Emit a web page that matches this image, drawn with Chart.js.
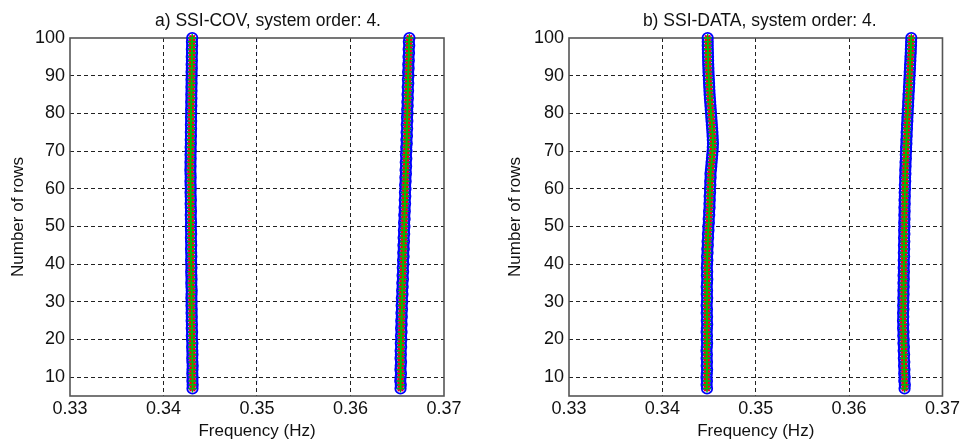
<!DOCTYPE html>
<html>
<head>
<meta charset="utf-8">
<script src="https://cdn.jsdelivr.net/npm/chart.js@4.4.0/dist/chart.umd.min.js"></script>
<style>
  html, body { margin: 0; padding: 0; background: #fff; }
  #wrap { display: flex; width: 962px; height: 446px; }
  .box { position: relative; width: 481px; height: 446px; }
</style>
</head>
<body>
<div id="wrap">
  <div class="box"><canvas id="covChart"></canvas></div>
  <div class="box"><canvas id="dataChart"></canvas></div>
</div>
<script>
// number of block rows used in the Hankel matrix
var rows = [
  7, 8, 9, 10, 11, 12, 13, 14, 15, 16,
  17, 18, 19, 20, 21, 22, 23, 24, 25, 26,
  27, 28, 29, 30, 31, 32, 33, 34, 35, 36,
  37, 38, 39, 40, 41, 42, 43, 44, 45, 46,
  47, 48, 49, 50, 51, 52, 53, 54, 55, 56,
  57, 58, 59, 60, 61, 62, 63, 64, 65, 66,
  67, 68, 69, 70, 71, 72, 73, 74, 75, 76,
  77, 78, 79, 80, 81, 82, 83, 84, 85, 86,
  87, 88, 89, 90, 91, 92, 93, 94, 95, 96,
  97, 98, 99, 100
];

// identified frequencies (Hz), SSI-COV
var covMode1 = [
  0.34310, 0.34312, 0.34309, 0.34311, 0.34308, 0.34310, 0.34312, 0.34309, 0.34307, 0.34310,
  0.34308, 0.34306, 0.34309, 0.34305, 0.34303, 0.34306, 0.34302, 0.34304, 0.34301, 0.34303,
  0.34300, 0.34302, 0.34299, 0.34301, 0.34298, 0.34300, 0.34302, 0.34299, 0.34297, 0.34300,
  0.34298, 0.34296, 0.34299, 0.34297, 0.34295, 0.34298, 0.34296, 0.34294, 0.34297, 0.34295,
  0.34293, 0.34296, 0.34294, 0.34292, 0.34295, 0.34293, 0.34291, 0.34294, 0.34292, 0.34290,
  0.34293, 0.34291, 0.34289, 0.34292, 0.34290, 0.34288, 0.34291, 0.34289, 0.34287, 0.34290,
  0.34288, 0.34291, 0.34289, 0.34292, 0.34290, 0.34293, 0.34291, 0.34294, 0.34292, 0.34295,
  0.34293, 0.34296, 0.34294, 0.34297, 0.34295, 0.34298, 0.34296, 0.34299, 0.34297, 0.34300,
  0.34298, 0.34301, 0.34299, 0.34302, 0.34300, 0.34303, 0.34301, 0.34304, 0.34302, 0.34305,
  0.34303, 0.34306, 0.34304, 0.34307
];
var covMode2 = [
  0.36535, 0.36538, 0.36532, 0.36536, 0.36540, 0.36534, 0.36537, 0.36541, 0.36535, 0.36539,
  0.36536, 0.36542, 0.36538, 0.36544, 0.36540, 0.36546, 0.36541, 0.36547, 0.36543, 0.36549,
  0.36545, 0.36551, 0.36547, 0.36553, 0.36549, 0.36556, 0.36552, 0.36558, 0.36554, 0.36561,
  0.36557, 0.36563, 0.36559, 0.36566, 0.36562, 0.36568, 0.36564, 0.36570, 0.36566, 0.36572,
  0.36568, 0.36574, 0.36571, 0.36577, 0.36573, 0.36579, 0.36575, 0.36581, 0.36578, 0.36584,
  0.36580, 0.36586, 0.36582, 0.36588, 0.36584, 0.36590, 0.36587, 0.36593, 0.36589, 0.36595,
  0.36591, 0.36597, 0.36593, 0.36599, 0.36596, 0.36602, 0.36598, 0.36604, 0.36600, 0.36606,
  0.36602, 0.36608, 0.36604, 0.36610, 0.36606, 0.36612, 0.36608, 0.36614, 0.36610, 0.36616,
  0.36612, 0.36618, 0.36614, 0.36620, 0.36616, 0.36622, 0.36618, 0.36624, 0.36620, 0.36626,
  0.36622, 0.36628, 0.36624, 0.36630
];

// identified frequencies (Hz), SSI-DATA
var dataMode1 = [
  0.34478, 0.34474, 0.34477, 0.34473, 0.34476, 0.34479, 0.34475, 0.34478, 0.34474, 0.34477,
  0.34473, 0.34476, 0.34479, 0.34475, 0.34478, 0.34474, 0.34477, 0.34480, 0.34476, 0.34479,
  0.34475, 0.34478, 0.34474, 0.34477, 0.34480, 0.34476, 0.34479, 0.34475, 0.34478, 0.34481,
  0.34477, 0.34480, 0.34476, 0.34479, 0.34482, 0.34478, 0.34484, 0.34481, 0.34487, 0.34484,
  0.34490, 0.34488, 0.34494, 0.34492, 0.34498, 0.34496, 0.34502, 0.34500, 0.34506, 0.34504,
  0.34508, 0.34506, 0.34511, 0.34509, 0.34514, 0.34512, 0.34517, 0.34515, 0.34520, 0.34524,
  0.34527, 0.34531, 0.34534, 0.34538, 0.34540, 0.34542, 0.34540, 0.34538, 0.34536, 0.34533,
  0.34530, 0.34527, 0.34524, 0.34521, 0.34518, 0.34515, 0.34512, 0.34509, 0.34506, 0.34504,
  0.34502, 0.34500, 0.34498, 0.34496, 0.34494, 0.34493, 0.34491, 0.34490, 0.34489, 0.34488,
  0.34487, 0.34486, 0.34486, 0.34485
];
var dataMode2 = [
  0.36594, 0.36597, 0.36591, 0.36595, 0.36590, 0.36593, 0.36588, 0.36591, 0.36586, 0.36589,
  0.36584, 0.36587, 0.36582, 0.36585, 0.36580, 0.36583, 0.36578, 0.36581, 0.36577, 0.36580,
  0.36578, 0.36582, 0.36579, 0.36583, 0.36580, 0.36584, 0.36581, 0.36585, 0.36582, 0.36586,
  0.36583, 0.36587, 0.36584, 0.36588, 0.36585, 0.36589, 0.36586, 0.36590, 0.36587, 0.36591,
  0.36588, 0.36592, 0.36589, 0.36593, 0.36590, 0.36594, 0.36591, 0.36595, 0.36592, 0.36596,
  0.36593, 0.36597, 0.36595, 0.36599, 0.36597, 0.36601, 0.36599, 0.36603, 0.36601, 0.36605,
  0.36604, 0.36608, 0.36607, 0.36611, 0.36610, 0.36614, 0.36613, 0.36617, 0.36616, 0.36620,
  0.36620, 0.36624, 0.36624, 0.36628, 0.36628, 0.36632, 0.36632, 0.36636, 0.36636, 0.36640,
  0.36641, 0.36644, 0.36645, 0.36648, 0.36649, 0.36652, 0.36653, 0.36656, 0.36657, 0.36660,
  0.36661, 0.36663, 0.36664, 0.36666
];

var xTicks = [0.33, 0.34, 0.35, 0.36, 0.37];
var yTicks = [10, 20, 30, 40, 50, 60, 70, 80, 90, 100];

var FONT = "'Liberation Sans', Arial, sans-serif";
var TEXT = '#111';

// frame around the plot area, drawn under the markers
var frame = {
  id: 'frame',
  beforeDatasetsDraw: function(chart) {
    var a = chart.chartArea, ctx = chart.ctx;
    ctx.save();
    ctx.strokeStyle = '#555';
    ctx.lineWidth = 1.6;
    ctx.strokeRect(a.left, a.top, a.right - a.left, a.bottom - a.top);
    ctx.restore();
  }
};

// plot heading, centred a little right of the axes like the figure export
var heading = {
  id: 'heading',
  afterDraw: function(chart, args, opts) {
    var a = chart.chartArea, ctx = chart.ctx;
    ctx.save();
    ctx.fillStyle = TEXT;
    ctx.font = '17.5px ' + FONT;
    ctx.textAlign = 'center';
    ctx.textBaseline = 'middle';
    ctx.fillText(opts.text, (a.left + a.right) / 2 + opts.shift, 21);
    ctx.restore();
  }
};

function points(f) {
  return rows.map(function(r, i) { return { x: f[i], y: r }; });
}

// one marker type per dataset, all on the same poles
function poleSets(m1, m2) {
  var pts = points(m1).concat(points(m2));
  var base = { data: pts, showLine: false, clip: false, backgroundColor: 'rgba(0,0,0,0)' };
  return [
    Object.assign({}, base, { pointStyle: 'cross', pointRadius: 4, borderColor: 'rgb(0,190,0)', borderWidth: 1.4 }),
    Object.assign({}, base, { pointStyle: 'crossRot', pointRadius: 3.6, borderColor: 'rgb(255,0,0)', borderWidth: 1.4 }),
    Object.assign({}, base, { pointStyle: 'rect', pointRadius: 3.2, borderColor: 'rgb(200,0,200)', borderWidth: 1.1 }),
    Object.assign({}, base, { pointStyle: 'circle', pointRadius: 5.2, borderColor: 'rgb(0,0,255)', borderWidth: 1.8 })
  ];
}

function makeChart(id, title, shift, m1, m2, yAxis, rightPad) {
  var ctx = document.getElementById(id).getContext('2d');
  return new Chart(ctx, {
    type: 'scatter',
    data: { datasets: poleSets(m1, m2) },
    plugins: [frame, heading],
    options: {
      responsive: true,
      maintainAspectRatio: false,
      animation: false,
      events: [],
      layout: { padding: { top: 38, left: 0, right: rightPad, bottom: 0 } },
      plugins: {
        legend: { display: false },
        tooltip: { enabled: false },
        title: { display: false },
        heading: { text: title, shift: shift }
      },
      scales: {
        x: {
          type: 'linear',
          min: 0.33,
          max: 0.37,
          afterBuildTicks: function(s) { s.ticks = xTicks.map(function(v) { return { value: v }; }); },
          afterFit: function(s) { s.height = 50; },
          ticks: {
            padding: 2,
            color: TEXT,
            font: { family: FONT, size: 18 },
            callback: function(v) { return v.toFixed(2); }
          },
          grid: {
            drawTicks: false,
            lineWidth: 1,
            color: function(c) {
              var v = c.tick ? c.tick.value : 0;
              return (v <= 0.3301 || v >= 0.3699) ? 'rgba(0,0,0,0)' : '#222';
            }
          },
          border: { display: false, dash: [4, 3] },
          title: {
            display: true,
            text: 'Frequency (Hz)',
            color: TEXT,
            font: { family: FONT, size: 17, lineHeight: 1.2 },
            padding: { top: 0, bottom: 4 }
          }
        },
        y: {
          type: 'linear',
          min: 5,
          max: 100,
          afterBuildTicks: function(s) { s.ticks = yTicks.map(function(v) { return { value: v }; }); },
          afterFit: function(s) { s.width = yAxis.width; },
          ticks: {
            padding: 5,
            color: TEXT,
            font: { family: FONT, size: 18 }
          },
          grid: {
            drawTicks: false,
            lineWidth: 1,
            color: function(c) {
              var v = c.tick ? c.tick.value : 0;
              return v >= 100 ? 'rgba(0,0,0,0)' : '#222';
            }
          },
          border: { display: false, dash: [4, 3] },
          title: {
            display: true,
            text: 'Number of rows',
            color: TEXT,
            font: { family: FONT, size: 17, lineHeight: 1.2 },
            padding: { top: yAxis.gap, bottom: 0 }
          }
        }
      }
    }
  });
}

makeChart('covChart', 'a) SSI-COV, system order: 4.', 11, covMode1, covMode2, { width: 70, gap: 8 }, 37);
makeChart('dataChart', 'b) SSI-DATA, system order: 4.', 4, dataMode1, dataMode2, { width: 88, gap: 24 }, 19);
</script>
</body>
</html>
